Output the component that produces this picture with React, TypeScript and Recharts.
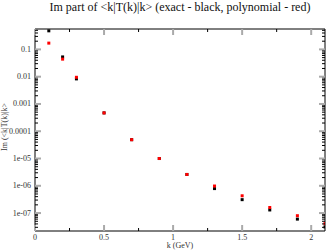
import { ScatterChart, Scatter, XAxis, YAxis } from "recharts";

const kValues = [0.1, 0.2, 0.3, 0.5, 0.7, 0.9, 1.1, 1.3, 1.5, 1.7, 1.9, 2.1];
const exactIm = [0.48, 0.053, 0.0083, 4.7e-4, 4.9e-5, 1.0e-5, 2.6e-6, 7.9e-7, 3.1e-7, 1.3e-7, 6.0e-8, 3.1e-8];
const polyIm = [0.17, 0.044, 0.0095, 4.7e-4, 4.9e-5, 1.0e-5, 2.6e-6, 9.8e-7, 4.3e-7, 1.6e-7, 8.0e-8, 4.1e-8];

const xMajor = [0, 0.5, 1, 1.5, 2];
const xMinor = [0.25, 0.75, 1.25, 1.75];
const yMajor = [1e-7, 1e-6, 1e-5, 1e-4, 1e-3, 0.01, 0.1];
const yMajorLabels = ["1e-07", "1e-06", "1e-05", "0.0001", "0.001", "0.01", "0.1"];

const yDomain = [2.2e-8, 0.56];

// minor log ticks 2..9 inside each decade
const yMinor: number[] = [];
for (const d of [1e-8, ...yMajor]) {
  for (let m = 2; m <= 9; m++) {
    const v = d * m;
    if (v > yDomain[0] && v < yDomain[1]) yMinor.push(v);
  }
}

const exactData = kValues.map((k, i) => ({ k, v: exactIm[i] }));
const polyData = kValues.map((k, i) => ({ k, v: polyIm[i] }));

const FONT = "'Liberation Serif', 'DejaVu Serif', serif";
const MAJOR = "#aaa";

const isMajorX = (v: number) => xMajor.some((m) => Math.abs(m - v) < 1e-9);
const isMajorY = (v: number) => yMajor.some((m) => Math.abs(m - v) / m < 1e-6);

function Square(color: string) {
  return (props: any) => <rect x={props.cx - 1.5} y={props.cy - 1.5} width={3} height={3} fill={color} />;
}

function BottomTick({ x, y, payload }: any) {
  const major = isMajorX(payload.value);
  return (
    <g>
      <line x1={x} x2={x} y1={y} y2={y - (major ? 6 : 3)} stroke={major ? MAJOR : "#000"} strokeWidth={major ? 2 : 1} />
      {major && (
        <text x={x} y={y + 6.5} textAnchor="middle" dominantBaseline="central" fontSize={8} fontFamily={FONT} fill="#333">
          {payload.value}
        </text>
      )}
    </g>
  );
}

function TopTick({ x, y, payload }: any) {
  const major = isMajorX(payload.value);
  return <line x1={x} x2={x} y1={y} y2={y + (major ? 6 : 3)} stroke={major ? MAJOR : "#000"} strokeWidth={major ? 2 : 1} />;
}

function LeftTick({ x, y, payload }: any) {
  const major = isMajorY(payload.value);
  const idx = yMajor.findIndex((m) => Math.abs(m - payload.value) / m < 1e-6);
  return (
    <g>
      <line x1={x} x2={x + (major ? 6 : 3)} y1={y} y2={y} stroke={major ? MAJOR : "#000"} strokeWidth={major ? 2 : 1} />
      {major && (
        <text x={x - 4} y={y} textAnchor="end" dominantBaseline="central" fontSize={8} fontFamily={FONT} fill="#333">
          {yMajorLabels[idx]}
        </text>
      )}
    </g>
  );
}

function RightTick({ x, y, payload }: any) {
  const major = isMajorY(payload.value);
  return <line x1={x} x2={x - (major ? 6 : 3)} y1={y} y2={y} stroke={major ? MAJOR : "#000"} strokeWidth={major ? 2 : 1} />;
}

export default function App() {
  const xTicks = [...xMajor, ...xMinor].sort((a, b) => a - b);
  const yTicks = [...yMajor, ...yMinor].sort((a, b) => a - b);
  return (
    <div style={{ position: "absolute", left: 0, top: 0, width: 327, height: 251, background: "#fff" }}>
      <div
        style={{
          position: "absolute",
          left: 0,
          width: 360,
          top: 0,
          textAlign: "center",
          fontFamily: FONT,
          fontSize: 12,
          lineHeight: "14px",
          color: "#111",
        }}
      >
        Im part of &lt;k|T(k)|k&gt; (exact - black, polynomial - red)
      </div>
      <div
        style={{
          position: "absolute",
          left: 4,
          top: 127,
          transform: "translate(-50%, -50%) rotate(-90deg)",
          whiteSpace: "nowrap",
          fontFamily: FONT,
          fontSize: 8,
          lineHeight: "9px",
          color: "#333",
        }}
      >
        Im (&lt;k|T(k)|k&gt;
      </div>
      <div
        style={{
          position: "absolute",
          left: 180,
          top: 245,
          transform: "translate(-50%, -50%)",
          whiteSpace: "nowrap",
          fontFamily: FONT,
          fontSize: 8,
          lineHeight: "9px",
          color: "#333",
        }}
      >
        k (GeV)
      </div>
      <div style={{ position: "absolute", left: 0, top: 0 }}>
        <ScatterChart width={327} height={251} margin={{ top: 0, right: 0, bottom: 0, left: 0 }}>
          <XAxis
            xAxisId="b"
            dataKey="k"
            type="number"
            domain={[0, 2.1]}
            ticks={xTicks}
            interval={0}
            allowDataOverflow
            height={20}
            tickSize={0}
            tickMargin={0}
            tickLine={false}
            axisLine={{ stroke: "#000" }}
            tick={<BottomTick />}
          />
          <XAxis
            xAxisId="t"
            orientation="top"
            dataKey="k"
            type="number"
            domain={[0, 2.1]}
            ticks={xTicks}
            interval={0}
            allowDataOverflow
            height={29}
            tickSize={0}
            tickMargin={0}
            tickLine={false}
            axisLine={{ stroke: "#000" }}
            tick={<TopTick />}
          />
          <YAxis
            yAxisId="l"
            dataKey="v"
            type="number"
            scale="log"
            domain={yDomain}
            ticks={yTicks}
            interval={0}
            allowDataOverflow
            width={35}
            tickSize={0}
            tickMargin={0}
            tickLine={false}
            axisLine={{ stroke: "#000" }}
            tick={<LeftTick />}
          />
          <YAxis
            yAxisId="r"
            orientation="right"
            dataKey="v"
            type="number"
            scale="log"
            domain={yDomain}
            ticks={yTicks}
            interval={0}
            allowDataOverflow
            width={2}
            tickSize={0}
            tickMargin={0}
            tickLine={false}
            axisLine={{ stroke: "#000" }}
            tick={<RightTick />}
          />
          <Scatter xAxisId="b" yAxisId="l" data={exactData} shape={Square("#000")} isAnimationActive={false} />
          <Scatter xAxisId="b" yAxisId="l" data={polyData} shape={Square("#f00")} isAnimationActive={false} />
        </ScatterChart>
      </div>
    </div>
  );
}
